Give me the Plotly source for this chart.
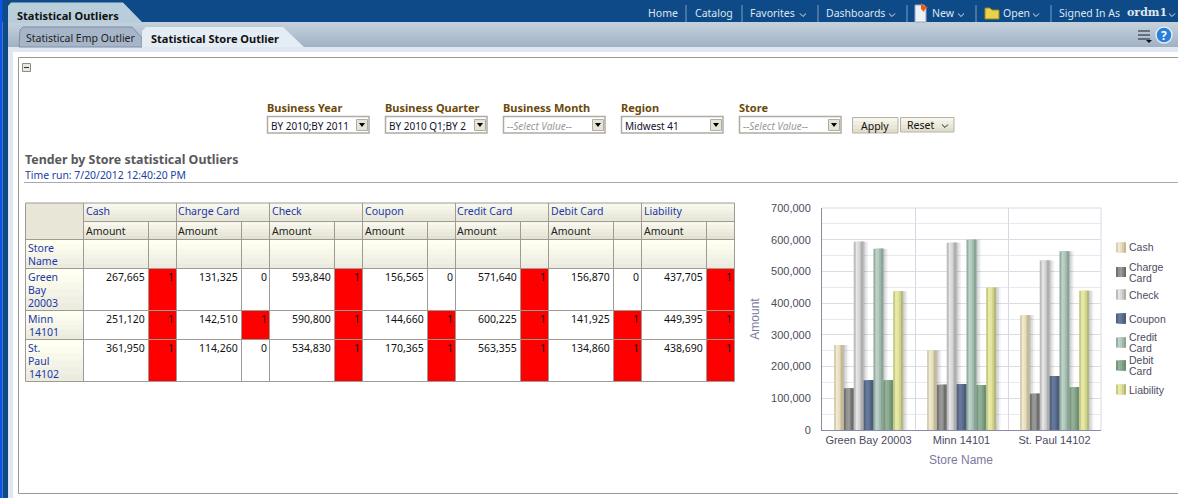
import plotly.graph_objects as go

# ---------- data ----------
stores = ["Green Bay 20003", "Minn 14101", "St. Paul 14102"]
store_cells = [["Green", "Bay", "20003"], ["Minn", " 14101"], ["St.", "Paul", " 14102"]]
tenders = ["Cash", "Charge Card", "Check", "Coupon", "Credit Card", "Debit Card", "Liability"]
cash = [267665, 251120, 361950]
charge_card = [131325, 142510, 114260]
check = [593840, 590800, 534830]
coupon = [156565, 144660, 170365]
credit_card = [571640, 600225, 563355]
debit_card = [156870, 141925, 134860]
liability = [437705, 449395, 438690]
cash_flag = [1, 1, 1]
charge_card_flag = [0, 1, 0]
check_flag = [1, 1, 1]
coupon_flag = [0, 1, 1]
credit_card_flag = [1, 1, 1]
debit_card_flag = [0, 1, 1]
liability_flag = [1, 1, 1]
y_ticks = [0, 100000, 200000, 300000, 400000, 500000, 600000, 700000]

amounts = [cash, charge_card, check, coupon, credit_card, debit_card, liability]
flags = [cash_flag, charge_card_flag, check_flag, coupon_flag, credit_card_flag, debit_card_flag, liability_flag]

# ---------- page helpers (pixel space -> paper space) ----------
W, H = 1178, 498
UI = "Noto Sans"
CH = "Liberation Sans"
shapes, notes = [], []


def px(x):
    return x / W


def py(y):
    return 1 - y / H


def rect(x0, y0, x1, y1, fill=None, line=None, lw=1):
    shapes.append(dict(type="rect", xref="paper", yref="paper", x0=px(x0), x1=px(x1), y0=py(y0), y1=py(y1),
                       fillcolor=fill if fill else "rgba(0,0,0,0)",
                       line=dict(color=line if line else "rgba(0,0,0,0)", width=lw if line else 0), layer="below"))


def seg(x0, y0, x1, y1, color, lw=1):
    shapes.append(dict(type="line", xref="paper", yref="paper", x0=px(x0), x1=px(x1), y0=py(y0), y1=py(y1),
                       line=dict(color=color, width=lw), layer="below"))


def poly(pts, fill=None, line=None, lw=1, closed=True):
    d = "M" + " L".join(f"{px(a):.5f},{py(b):.5f}" for a, b in pts) + (" Z" if closed else "")
    shapes.append(dict(type="path", path=d, xref="paper", yref="paper",
                       fillcolor=fill if fill else "rgba(0,0,0,0)",
                       line=dict(color=line if line else "rgba(0,0,0,0)", width=lw if line else 0), layer="below"))


def hexmix(c0, c1, t):
    a = [int(c0[i:i + 2], 16) for i in (1, 3, 5)]
    b = [int(c1[i:i + 2], 16) for i in (1, 3, 5)]
    return "#" + "".join(f"{round(p + (q - p) * t):02x}" for p, q in zip(a, b))


def vgrad(x0, y0, x1, y1, c0, c1, n=5):
    # each band runs to the bottom of the block and the next one paints over it: no seams
    h = (y1 - y0) / n
    for i in range(n):
        rect(x0, y0 + i * h, x1, y1, hexmix(c0, c1, i / max(n - 1, 1)))


def hgrad(x0, y0, x1, y1, stops):
    n = len(stops)
    w = (x1 - x0) / n
    for i, c in enumerate(stops):
        rect(x0 + i * w, y0, x1, y1, c)


def text(x, y, s, size=11, color="#000000", font=UI, anchor="left", bold=False, italic=False):
    if bold:
        s = f"<b>{s}</b>"
    if italic:
        s = f"<i>{s}</i>"
    notes.append(dict(x=px(x), y=py(y), xref="paper", yref="paper", text=s, showarrow=False, xanchor=anchor,
                      yanchor="middle", borderpad=0, borderwidth=0, font=dict(size=size, color=color, family=font)))


def chevron(x, y, color, s=3):
    poly([(x - s, y - 1.5), (x, y + 1.5), (x + s, y - 1.5)], line=color, lw=1, closed=False)


# ---------- page chrome ----------
NAVY = "#0d4a87"
rect(0, 0, W, 22, NAVY)
rect(0, 0, 2.5, H, "#0b55e6")
rect(2.5, 22, 8, H, NAVY)
vgrad(8, 22, W, 47, "#c3d0dc", "#a3b3c7", 8)
rect(8, 47, W, 52, "#dfe8f2")
rect(8, 47, 13, H, "#dfe8f2")
# outer tab
poly([(8, 6), (11, 2.5), (123, 2.5), (143, 23), (8, 23)], "#b9cedb")
text(17, 15, "Statistical Outliers", 11, "#111111", bold=True)
# inactive tab
poly([(19, 47), (20, 30), (23, 27), (132, 27), (142, 38), (142, 47)], "#a7b5c8", "#7f8ea5")
text(26, 38, "Statistical Emp Outlier", 10.5, "#222222")
# active tab
poly([(142, 47), (142, 31), (146, 27), (283, 27), (304, 47)], "#e4ecf4")
text(151, 38, "Statistical Store Outlier", 11, "#111111", bold=True)

# top navigation
NAV = "#dde6ef"
for label, x in [("Home", 648), ("Catalog", 695), ("Favorites", 750), ("Dashboards", 826), ("New", 932),
                 ("Open", 1003), ("Signed In As", 1059)]:
    text(x, 13, label, 10.5, NAV)
text(1127, 13, "ordm1", 11, NAV, font="DejaVu Serif", bold=True)
for x in (686, 742, 818, 907, 976, 1051):
    seg(x, 5, x, 22, "#7f9fc0")
for x in (803, 892, 961, 1036, 1172):
    chevron(x, 15, NAV)
# nav icons
poly([(915, 5), (924, 5), (926, 8), (926, 22), (915, 22)], "#eef0f8", "#9aa4bc")
poly([(921, 3), (924, 6), (928, 7), (925, 9), (924, 12), (921, 9)], "#e85a10")
poly([(985, 8), (990, 8), (992, 10), (999, 10), (999, 19), (985, 19)], "#e8d24a", "#9a8420")
# toolbar icons
for y in (31, 35, 39):
    seg(1138, y, 1150, y, "#333a48", 1.2)
poly([(1146, 40), (1152, 40), (1149, 43)], "#111111")
shapes.append(dict(type="circle", xref="paper", yref="paper", x0=px(1156), x1=px(1172), y0=py(43), y1=py(27),
                   fillcolor="#2a7fd8", line=dict(color="#dfeafa", width=1.5), layer="below"))
text(1164, 35.5, "?", 12, "#ffffff", anchor="center", bold=True)

# content box
seg(18.5, 57.5, W, 57.5, "#999990")
seg(18.5, 57.5, 18.5, 493.5, "#999990")
seg(18.5, 493.5, W, 493.5, "#999990")
rect(22.5, 63.5, 30.5, 71.5, "#e8e8e0", "#8c8c8c")
seg(24, 67.5, 29, 67.5, "#333333")

# prompts
prompts = [("Business Year", 267, "BY 2010;BY 2011", False), ("Business Quarter", 385, "BY 2010 Q1;BY 2", False),
           ("Business Month", 503, "--Select Value--", True), ("Region", 621, "Midwest 41", False),
           ("Store", 739, "--Select Value--", True)]
for label, x, val, ital in prompts:
    text(x, 107, label, 11, "#6b4a0a", bold=True)
    rect(x + 0.5, 116.5, x + 102, 133, "#ffffff", "#aeaca2", 1.5)
    rect(x + 89.5, 119.5, x + 100.5, 130.5, "#e6e4d8", "#b0aea4")
    poly([(x + 92, 123), (x + 98, 123), (x + 95, 127)], "#000000")
    text(x + 3.5, 125.5, val, 10, "#9a9a9a" if ital else "#101030", italic=ital)
vgrad(852, 117, 898, 133, "#f7f6ec", "#e0decb", 4)
rect(852.5, 117.5, 898, 133, None, "#b4b2a4")
text(875, 125.5, "Apply", 10.5, "#111111", anchor="center")
vgrad(900, 117, 954, 132, "#f7f6ec", "#e0decb", 4)
rect(900.5, 117.5, 954, 132, None, "#b4b2a4")
text(907, 125, "Reset", 10.5, "#111111")
chevron(945, 126, "#222222")

# title
text(25, 159, "Tender by Store statistical Outliers", 12.4, "#58585c", bold=True)
text(25, 175, "Time run: 7/20/2012 12:40:20 PM", 10.4, "#2040a0")
seg(24, 182.5, W, 182.5, "#aaaaaa")

# ---------- table ----------
LINK = "#2038a8"
GRID = "#9c9c94"
T_X0, T_STORE, T_AMT, T_FLAG = 25.5, 83.5, 65, 28
T_Y = [203, 221.5, 239.5, 268.5, 310.5, 339.5, 381.5]
T_R = T_STORE + len(tenders) * (T_AMT + T_FLAG)

rect(T_X0, T_Y[0], T_STORE, T_Y[2], "#e8e6d6")
vgrad(T_STORE, T_Y[0], T_R, T_Y[1], "#f9f8ee", "#e8e6d6", 5)
vgrad(T_STORE, T_Y[1], T_R, T_Y[2], "#f9f8ee", "#e4e2d2", 5)
vgrad(T_X0, T_Y[2], T_R, T_Y[3], "#fffff2", "#ecebdf", 6)
for r in range(3):
    vgrad(T_X0, T_Y[3 + r], T_STORE, T_Y[4 + r], "#fffff2", "#ecebdf", 6)
    rect(T_STORE, T_Y[3 + r], T_R, T_Y[4 + r], "#ffffff")
    for c in range(len(tenders)):
        if flags[c][r]:
            xl = T_STORE + c * (T_AMT + T_FLAG) + T_AMT
            rect(xl, T_Y[3 + r], xl + T_FLAG, T_Y[4 + r], "#ff0000")
# grid lines
for y in T_Y:
    seg(T_X0 if y != T_Y[1] else T_STORE, y, T_R, y, GRID, 1)
seg(T_X0, T_Y[0], T_X0, T_Y[-1], GRID)
seg(T_STORE, T_Y[0], T_STORE, T_Y[-1], GRID)
for c in range(len(tenders)):
    xc = T_STORE + c * (T_AMT + T_FLAG)
    seg(xc + T_AMT, T_Y[1], xc + T_AMT, T_Y[-1], GRID)
    seg(xc + T_AMT + T_FLAG, T_Y[0], xc + T_AMT + T_FLAG, T_Y[-1], GRID)
    text(xc + 2, 211.5, tenders[c], 10.5, LINK)
    text(xc + 2, 231, "Amount", 10.5, "#222222")
    for r in range(3):
        yt = T_Y[3 + r] + 8.5
        text(xc + T_AMT - 3.5, yt, f"{amounts[c][r]:,}", 10.5, "#111111", anchor="right")
        text(xc + T_AMT + T_FLAG - 3, yt, str(flags[c][r]), 10.5, "#111111", anchor="right")
text(T_X0 + 2, 248, "Store", 10.5, LINK)
text(T_X0 + 2, 261, "Name", 10.5, LINK)
for r, lines in enumerate(store_cells):
    for i, ln in enumerate(lines):
        text(T_X0 + 2 + (1 if ln.startswith(" ") else 0), T_Y[3 + r] + 8.5 + 13 * i, ln.strip(), 10.5, LINK)

# ---------- chart ----------
bar_colors = [
    ["#d8cfb0", "#efe8d2", "#e8e0c4", "#d6cca9", "#c4ba98"],
    ["#727272", "#929292", "#9a9a9a", "#848484", "#6e6e6e"],
    ["#bcbcbc", "#e6e6e6", "#dadada", "#c4c4c4", "#aeaeae"],
    ["#51627f", "#66799a", "#64779a", "#566885", "#4c5d7a"],
    ["#96afa2", "#bfd3c9", "#b4cabf", "#a0b8ab", "#8ca498"],
    ["#76977c", "#94b299", "#8dac92", "#7c9c82", "#6d8f74"],
    ["#c8cb86", "#e8eba8", "#e2e5a0", "#cfd28e", "#b6b976"],
]
AX_X0, AX_X1, AX_Y0, AX_Y1 = 822, 1101, 208, 430
CAT_PX = (AX_X1 - AX_X0) / 3
BAR_W = 69 / 7 / CAT_PX

traces = []
n = len(tenders)
# soft drop shadows first, so bars cover them
for i, tender in enumerate(tenders):
    left = (i - n / 2) * BAR_W
    for k, alpha in enumerate((0.30, 0.18, 0.08)):
        traces.append(go.Bar(x=stores, y=amounts[i], name=tender, showlegend=False, hoverinfo="skip",
                             marker=dict(color=f"rgba(90,90,100,{alpha})", line=dict(width=0)),
                             offset=left + BAR_W + k * 1.5 / CAT_PX, width=1.5 / CAT_PX))
for i, tender in enumerate(tenders):
    left = (i - n / 2) * BAR_W
    strips = bar_colors[i]
    sw = BAR_W / len(strips)
    for k, col in enumerate(strips):
        # each strip runs to the bar's right edge and the next one paints over it
        traces.append(go.Bar(x=stores, y=amounts[i], name=tender, showlegend=False,
                             marker=dict(color=col, line=dict(width=0)),
                             offset=left + k * sw, width=BAR_W - k * sw,
                             hovertemplate="%{x}<br>" + tender + ": %{y:,}<extra></extra>"))

# plot frame
seg(AX_X0, AX_Y0, AX_X1, AX_Y0, "#d8d8e4")
seg(AX_X1, AX_Y0, AX_X1, AX_Y1, "#d8d8e4")

# legend
legend_rows = [("Cash", 247.5), ("Charge|Card", 272), ("Check", 294.5), ("Coupon", 318.5), ("Credit|Card", 342.5),
               ("Debit|Card", 365.5), ("Liability", 389.5)]
for (label, yc), col in zip(legend_rows, bar_colors):
    hgrad(1116, yc - 5, 1126, yc + 5, col)
    parts = label.split("|")
    for j, part in enumerate(parts):
        text(1129, yc + (j - (len(parts) - 1) / 2) * 11, part, 10.5, "#4c4c60", font=CH)
text(961, 460, "Store Name", 12, "#7a7aa0", font=CH, anchor="center")

fig = go.Figure(traces)
fig.update_layout(
    width=W, height=H, autosize=False, margin=dict(l=0, r=0, t=0, b=0),
    paper_bgcolor="#ffffff", plot_bgcolor="rgba(0,0,0,0)", barmode="overlay", showlegend=False,
    font=dict(family=CH, size=11, color="#4c4c60"), shapes=shapes, annotations=notes,
    xaxis=dict(domain=[px(AX_X0), px(AX_X1)], type="category", categoryorder="array", categoryarray=stores,
               range=[-0.5, 2.5], tickson="boundaries", showgrid=True, gridcolor="#d8d8e4", gridwidth=1,
               showline=True, linecolor="#8a8aa8", linewidth=1, ticks="outside", ticklen=3, tickangle=0,
               tickcolor="rgba(0,0,0,0)", zeroline=False, tickfont=dict(size=11, color="#4c4c60"),
               automargin=False),
    yaxis=dict(domain=[py(AX_Y1), py(AX_Y0)], range=[0, 700000], tickmode="array", tickvals=y_ticks,
               tickformat=",d", showgrid=True, gridcolor="#dcdce6", gridwidth=1, showline=True,
               linecolor="#8a8aa8", linewidth=1, ticks="outside", ticklen=8, tickcolor="rgba(0,0,0,0)",
               zeroline=False, tickfont=dict(size=11, color="#4c4c60"), automargin=False,
               minor=dict(dtick=50000, showgrid=True, gridcolor="#e8e8f0", gridwidth=1, ticks=""),
               title=dict(text="Amount", font=dict(size=12, color="#7a7aa0"), standoff=8)),
)
POST = """
document.documentElement.style.margin='0';
document.body.style.margin='0';
document.body.style.overflow='hidden';
var gd=document.getElementById('{plot_id}');
gd.style.position='fixed';gd.style.left='0';gd.style.top='0';
Plotly.relayout(gd,{width:%d,height:%d});
""" % (W, H)
fig.write_html("out.html", config=dict(displayModeBar=False, responsive=False), post_script=POST)
